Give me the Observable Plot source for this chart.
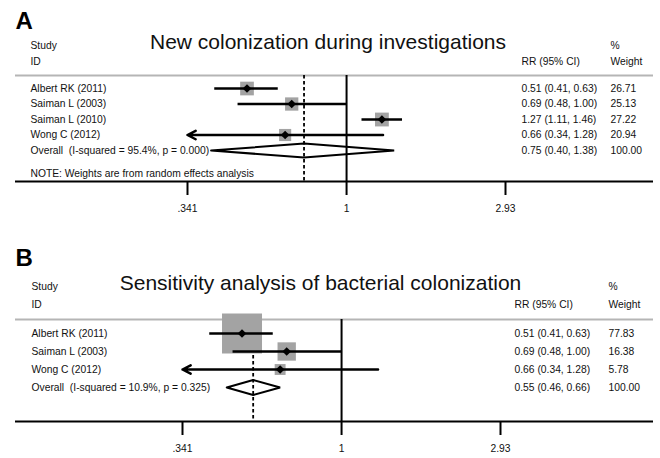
<!DOCTYPE html>
<html><head><meta charset="utf-8">
<script src="https://cdn.jsdelivr.net/npm/d3@7"></script>
<script src="https://cdn.jsdelivr.net/npm/@observablehq/plot@0.6"></script>
<style>
body{margin:0;background:#fff;}
svg{display:block}
svg text{white-space:pre}
</style>
</head><body><div id="chart"></div>
<script>
// ---- Panel A data ----
const studiesA = ["Albert RK (2011)", "Saiman L (2003)", "Saiman L (2010)", "Wong C (2012)"];
const rrA = [0.51, 0.69, 1.27, 0.66];
const loA = [0.41, 0.48, 1.11, 0.34];
const hiA = [0.63, 1.00, 1.46, 1.28];
const weightA = [26.71, 25.13, 27.22, 20.94];
const overallLabelA = "Overall  (I-squared = 95.4%, p = 0.000)";
const overallA = [0.75, 0.40, 1.38, 100.00]; // rr, lo, hi, weight
const titleA = "New colonization during investigations";
const noteA = "NOTE: Weights are from random effects analysis";

// ---- Panel B data ----
const studiesB = ["Albert RK (2011)", "Saiman L (2003)", "Wong C (2012)"];
const rrB = [0.51, 0.69, 0.66];
const loB = [0.41, 0.48, 0.34];
const hiB = [0.63, 1.00, 1.28];
const weightB = [77.83, 16.38, 5.78];
const overallLabelB = "Overall  (I-squared = 10.9%, p = 0.325)";
const overallB = [0.55, 0.46, 0.66, 100.00];
const titleB = "Sensitivity analysis of bacterial colonization";

// ---- axis ticks ----
const tickValues = [0.341, 1, 2.93];
const tickLabels = [".341", "1", "2.93"];

const FONT = "'Liberation Sans', Arial, Helvetica, sans-serif";
const INK = "#111";

function forest(p) {
  const rows = p.studies.map((s, i) => ({row: i, label: s, rr: p.rr[i], lo: p.lo[i], hi: p.hi[i], w: p.weight[i]}));
  const n = rows.length;
  const ov = {row: n, label: p.ovLabel, rr: p.ov[0], lo: p.ov[1], hi: p.ov[2], w: p.ov[3]};
  const all = [...rows, ov];
  const xmin = tickValues[0], xmax = tickValues[tickValues.length - 1];
  const inside = rows.filter(d => d.lo >= xmin);
  const clipped = rows.filter(d => d.lo < xmin);
  const dia = [[ov.lo, 0], [ov.rr, -1], [ov.hi, 0], [ov.rr, 1], [ov.lo, 0]]
    .map(([x, k]) => ({x, y: ov.row + k * p.diamondH}));
  const fmt = v => v.toFixed(2);
  const marks = [
    Plot.ruleY([p.sepRow], {stroke: "#b5b5b5", strokeWidth: 2}),
    Plot.ruleX([1], {stroke: "#000", strokeWidth: 2}),
    Plot.ruleX([ov.rr], {stroke: "#000", strokeWidth: 1.8, strokeDasharray: "3.5,2.5"}),
    Plot.dot(rows, {x: "rr", y: "row", r: "w", symbol: "square", fill: "#a3a3a3", stroke: null}),
    Plot.ruleY(inside, {x1: "lo", x2: d => Math.min(d.hi, xmax), y: "row", stroke: "#000", strokeWidth: 2.5}),
    Plot.arrow(clipped, {x1: "hi", x2: () => xmin, y1: "row", y2: "row", stroke: "#000", strokeWidth: 2.5, headLength: 5.5, headAngle: 55}),
    Plot.dot(rows, {x: "rr", y: "row", symbol: "diamond2", r: 3.9, fill: "#000", stroke: null}),
    Plot.line(dia, {x: "x", y: "y", stroke: "#000", strokeWidth: 2, strokeLinejoin: "miter"}),
    Plot.ruleY([p.axisRow], {stroke: "#000", strokeWidth: 2}),
    Plot.axisX({ticks: tickValues, tickFormat: d => tickLabels[tickValues.indexOf(d)], tickSize: 14, tickPadding: 9,
      strokeWidth: 2, stroke: "#000", fontSize: 10.3, fill: INK, label: null, anchor: "bottom"}),
    Plot.text(all, {y: "row", text: "label", frameAnchor: "left", dx: p.nameDx, textAnchor: "start", fill: INK}),
    Plot.text(all, {y: "row", text: d => `${fmt(d.rr)} (${fmt(d.lo)}, ${fmt(d.hi)})`, frameAnchor: "right", dx: p.rrDx, textAnchor: "start", fill: INK}),
    Plot.text(all, {y: "row", text: d => fmt(d.w), frameAnchor: "right", dx: p.wDx, textAnchor: "start", fill: INK}),
    // headers
    Plot.text([p.panel], {text: d => d, frameAnchor: "top-left", dx: 0, dy: p.panelDy, lineAnchor: "bottom", textAnchor: "start", fontSize: 24, fontWeight: "bold", fill: "#000"}),
    Plot.text(["Study"], {text: d => d, frameAnchor: "top-left", dx: p.nameDx, dy: p.row1Dy, textAnchor: "start", fill: INK}),
    Plot.text(["ID"], {text: d => d, frameAnchor: "top-left", dx: p.nameDx, dy: p.row2Dy, textAnchor: "start", fill: INK}),
    Plot.text([p.title], {text: d => d, frameAnchor: "top", dx: p.titleDx, dy: p.titleDy, lineAnchor: "bottom", fontSize: p.titleSize, fill: INK}),
    Plot.text(["RR (95% CI)"], {text: d => d, frameAnchor: "top-right", dx: p.rrDx, dy: p.row2Dy, textAnchor: "start", fill: INK}),
    Plot.text(["%"], {text: d => d, frameAnchor: "top-right", dx: p.wDx, dy: p.row1Dy, textAnchor: "start", fill: INK}),
    Plot.text(["Weight"], {text: d => d, frameAnchor: "top-right", dx: p.wDx, dy: p.row2Dy, textAnchor: "start", fill: INK})
  ];
  if (p.note) marks.push(Plot.text([p.note], {text: d => d, frameAnchor: "bottom-left", dx: p.nameDx, dy: -5, textAnchor: "start", fill: INK}));
  return Plot.plot({
    width: 660, height: p.height,
    marginTop: p.mTop, marginBottom: p.mBottom, marginLeft: 15, marginRight: 7,
    style: {fontFamily: FONT, fontSize: "10.3px", color: "#000", background: "white", overflow: "visible"},
    x: {type: "log", domain: [xmin, xmax], range: p.xRange, axis: null},
    y: {domain: [p.sepRow, p.axisRow], reverse: true, axis: null},
    r: {type: "sqrt", domain: [0, 100], range: [0, p.rMax]},
    marks
  });
}

const chart = document.getElementById("chart");
chart.append(forest({
  panel: "A", title: titleA, note: noteA,
  studies: studiesA, rr: rrA, lo: loA, hi: hiA, weight: weightA, ovLabel: overallLabelA, ov: overallA,
  height: 229, mTop: 75, mBottom: 48, xRange: [187, 505], sepRow: -0.84, axisRow: 6, rMax: 14.95, diamondH: 0.45,
  panelDy: -47, row1Dy: -34.3, row2Dy: -18.3, titleDx: -6.5, titleDy: -27, titleSize: 21,
  nameDx: 15, rrDx: -132, wDx: -43
}));
chart.append(forest({
  panel: "B", title: titleB, note: null,
  studies: studiesB, rr: rrB, lo: loB, hi: hiB, weight: weightB, ovLabel: overallLabelB, ov: overallB,
  height: 229, mTop: 90, mBottom: 37, xRange: [182, 500], sepRow: -0.778, axisRow: 4.889, rMax: 25.58, diamondH: 0.42,
  panelDy: -54, row1Dy: -37, row2Dy: -19, titleDx: -14, titleDy: -30, titleSize: 21,
  nameDx: 16, rrDx: -139, wDx: -45
}));
</script>
</body></html>
